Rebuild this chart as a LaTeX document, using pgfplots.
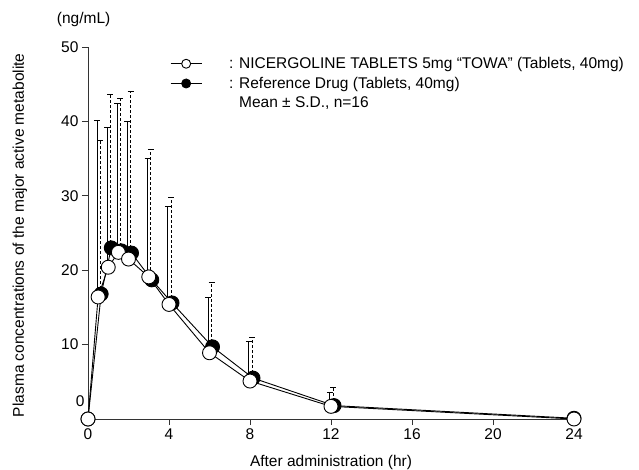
\documentclass[border=0pt]{standalone}
\usepackage{fontspec}
\setmainfont{Liberation Sans}
\usepackage{pgfplots}
\usepackage{pgfplotstable}
\pgfplotsset{compat=1.18}

% test tablets (open circles), solid S.D. bars drawn just left of the mean
\pgfplotstableread{
x y
0 0.0
0.5 16.4
1 20.4
1.5 22.4
2 21.5
3 19.1
4 15.4
6 8.9
8 5.1
12 1.7
24 0.0
}\testmean
\pgfplotstableread{
x y e
0.44 16.4 23.7
0.94 20.4 18.8
1.44 22.4 20.0
1.94 21.5 18.5
2.94 19.1 16.0
3.94 15.4 13.2
5.94 8.9 7.5
7.94 5.1 5.4
11.94 1.7 1.9
}\testsd

% reference drug (filled circles), dashed S.D. bars
\pgfplotstableread{
x y
0 0.0
0.65 16.8
1.15 23.0
1.65 22.6
2.15 22.3
3.15 18.7
4.15 15.6
6.15 9.7
8.15 5.5
12.15 1.8
24 0.1
}\refmean
\pgfplotstableread{
x y e
0.6 16.8 20.6
1.1 23.0 20.6
1.6 22.6 20.5
2.1 22.3 21.7
3.1 18.7 17.6
4.1 15.6 14.2
6.1 9.7 8.7
8.1 5.5 5.5
12.1 1.8 2.4
}\refsd

\begin{document}
\begin{tikzpicture}[font=\fontsize{15.5}{18}\selectfont]
\useasboundingbox (-88pt,-50pt) rectangle (551pt,419pt);
\begin{axis}[
    at={(0pt,0pt)}, anchor=south west,
    scale only axis, width=486pt, height=372pt,
    xmin=0, xmax=24, ymin=0, ymax=50,
    axis x line*=bottom, axis y line*=left,
    axis line style={-, black!80, line width=0.8pt},
    tick align=outside, major tick length=6pt,
    tick style={black!80, line width=0.8pt},
    xtick={0,4,...,24},
    ytick={10,20,...,50},
    extra y ticks={0},
    extra y tick style={major tick length=0pt, yticklabel style={yshift=18pt}},
    /pgf/number format/assume math mode=true,
    clip=false,
    xlabel={After administration (hr)},
    ylabel={Plasma concentrations of the major active metabolite},
    xlabel style={at={(rel axis cs:0.5,-0.1156)}, anchor=center},
    ylabel style={at={(rel axis cs:-0.14,0.494)}, anchor=center},
    legend style={draw=none, fill=none, at={(axis cs:4.05,48.9)}, anchor=north west,
        inner sep=0pt, row sep=3pt, cells={anchor=west},
        /tikz/every odd column/.append style={column sep=25pt}},
    legend image code/.code={\draw[mark repeat=2,mark phase=2,#1]
        plot coordinates {(0pt,0pt)(15.5pt,0pt)(31pt,0pt)};},
]

\addplot[only marks, mark=*, mark size=0.2pt, forget plot,
    error bars/.cd, y dir=plus, y explicit, error mark=|,
    error bar style={black, line width=0.7pt},
    error mark options={black, line width=0.7pt, mark size=3pt}]
    table[x=x, y=y, y error=e] {\testsd};

\addplot[only marks, mark=*, mark size=0.2pt, forget plot,
    error bars/.cd, y dir=plus, y explicit, error mark=-,
    error bar style={black, line width=0.7pt, dash pattern=on 3pt off 2pt},
    error mark options={black, solid, rotate=90, line width=0.7pt, mark size=3pt}]
    table[x=x, y=y, y error=e] {\refsd};

\addplot[black, line width=0.9pt, mark=*, mark size=7pt,
    mark options={fill=black}, forget plot] table[x=x, y=y] {\refmean};

\addplot[black, line width=0.9pt, mark=*, mark size=7pt,
    mark options={fill=white}, forget plot] table[x=x, y=y] {\testmean};

\addlegendimage{black, line width=0.9pt, mark=*, mark size=4.5pt, mark options={fill=white}}
\addlegendentry{: NICERGOLINE TABLETS 5mg “TOWA” (Tablets, 40mg)}
\addlegendimage{black, line width=0.9pt, mark=*, mark size=4.5pt, mark options={fill=black}}
\addlegendentry{: Reference Drug (Tablets, 40mg)}
\addlegendimage{empty legend}
\addlegendentry{\phantom{: }Mean ± S.D., n=16}

\node at (rel axis cs:-0.009,1.073) {(ng/mL)};
\end{axis}
\end{tikzpicture}
\end{document}
